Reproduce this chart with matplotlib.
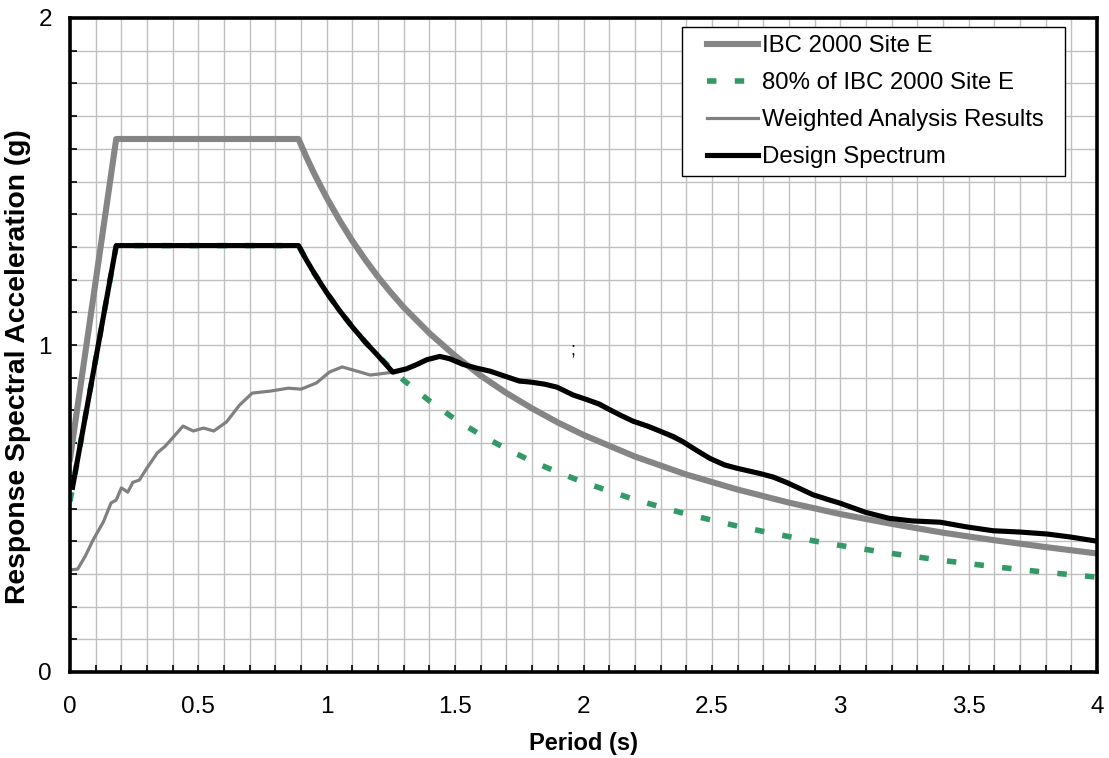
import matplotlib
matplotlib.use("Agg")
import matplotlib.pyplot as plt
from matplotlib.ticker import MultipleLocator
from matplotlib.patches import Rectangle

plt.rcParams['font.family'] = ['Liberation Sans', 'DejaVu Sans']

# ---- data ----
ibc_T = [0.0, 0.18, 0.89, 0.92, 0.95, 0.98, 1.0, 1.05, 1.1, 1.15, 1.2, 1.25, 1.3, 1.4,
         1.5, 1.6, 1.7, 1.8, 1.9, 2.0, 2.2, 2.4, 2.6, 2.8, 3.0, 3.2, 3.4, 3.6, 3.8, 4.0]
ibc_Sa = [0.652, 1.63, 1.63, 1.576, 1.526, 1.480, 1.450, 1.381, 1.318, 1.261, 1.208,
          1.160, 1.115, 1.036, 0.967, 0.906, 0.853, 0.806, 0.763, 0.725, 0.659, 0.604,
          0.558, 0.518, 0.483, 0.453, 0.426, 0.403, 0.382, 0.3625]

ibc80_Sa = [0.522, 1.304, 1.304, 1.261, 1.221, 1.184, 1.160, 1.105, 1.055, 1.009, 0.967,
            0.928, 0.892, 0.829, 0.773, 0.725, 0.682, 0.644, 0.611, 0.580, 0.527, 0.483,
            0.446, 0.414, 0.387, 0.3625, 0.341, 0.322, 0.305, 0.290]

weighted_T = [0.0, 0.03, 0.06, 0.09, 0.13, 0.16, 0.18, 0.20, 0.225, 0.245, 0.27, 0.30,
              0.34, 0.37, 0.40, 0.44, 0.48, 0.52, 0.56, 0.61, 0.66, 0.71, 0.78, 0.85,
              0.90, 0.96, 1.01, 1.06, 1.10, 1.17, 1.23, 1.257,
              1.31, 1.39, 1.44, 1.53, 1.636, 1.75, 1.80, 1.897, 1.96, 2.013, 2.10, 2.193,
              2.30, 2.39, 2.493, 2.598, 2.687, 2.79, 2.894, 3.0, 3.10, 3.19, 3.28, 3.39,
              3.49, 3.595, 3.70, 3.805, 3.895, 4.0]
weighted_Sa = [0.312, 0.315, 0.355, 0.404, 0.459, 0.517, 0.526, 0.563, 0.55, 0.58, 0.587,
               0.624, 0.67, 0.69, 0.716, 0.752, 0.737, 0.746, 0.737, 0.765, 0.816, 0.853,
               0.859, 0.868, 0.865, 0.884, 0.917, 0.933, 0.924, 0.908, 0.914, 0.917,
               0.927, 0.957, 0.966, 0.939, 0.92, 0.887, 0.887, 0.872, 0.847, 0.832, 0.801,
               0.765, 0.734, 0.70, 0.651, 0.624, 0.608, 0.578, 0.541, 0.517, 0.486, 0.471,
               0.462, 0.459, 0.443, 0.431, 0.428, 0.422, 0.413, 0.40]

design_T = [0.01, 0.18, 0.89, 0.92, 0.95, 0.98, 1.0, 1.05, 1.1, 1.15, 1.2, 1.257,
            1.31, 1.35, 1.39, 1.44, 1.48, 1.53, 1.58, 1.636, 1.70, 1.75, 1.80, 1.85, 1.897,
            1.96, 2.013, 2.06, 2.10, 2.15, 2.193, 2.25, 2.30, 2.35, 2.39, 2.44, 2.493,
            2.55, 2.598, 2.687, 2.74, 2.79, 2.84, 2.894, 2.95, 3.0, 3.05, 3.10, 3.19,
            3.28, 3.39, 3.49, 3.595, 3.70, 3.805, 3.895, 4.0]
design_Sa = [0.565, 1.304, 1.304, 1.261, 1.221, 1.184, 1.160, 1.105, 1.055, 1.009, 0.967,
             0.917, 0.927, 0.940, 0.955, 0.965, 0.958, 0.941, 0.930, 0.920, 0.903, 0.890,
             0.886, 0.880, 0.871, 0.847, 0.833, 0.820, 0.803, 0.783, 0.767, 0.752, 0.736,
             0.720, 0.703, 0.678, 0.653, 0.633, 0.623, 0.607, 0.596, 0.580, 0.562, 0.542,
             0.528, 0.516, 0.502, 0.488, 0.470, 0.462, 0.458, 0.444, 0.432, 0.428, 0.422,
             0.413, 0.40]

labels = ["IBC 2000 Site E", "80% of IBC 2000 Site E", "Weighted Analysis Results",
          "Design Spectrum"]
x_ticks = [0, 0.5, 1, 1.5, 2, 2.5, 3, 3.5, 4]
x_tick_labels = ["0", "0.5", "1", "1.5", "2", "2.5", "3", "3.5", "4"]
y_ticks = [0, 1, 2]
y_tick_labels = ["0", "1", "2"]

# ---- figure ----
fig = plt.figure(figsize=(11.09, 7.58), dpi=100)
ax = fig.add_axes([70/1109, 86/758, 1027/1109, 654/758])

ax.plot(weighted_T, weighted_Sa, color='#808080', lw=2.3, zorder=3, label=labels[2])
ax.plot(ibc_T, ibc_Sa, color='#858585', lw=4.4, zorder=4, label=labels[0])
ax.plot(ibc_T, ibc80_Sa, color='#339966', lw=4.0, zorder=4, label=labels[1],
        dashes=(1.7, 3.3), dash_capstyle='butt')
ax.plot(design_T, design_Sa, color='black', lw=3.7, zorder=5, label=labels[3])

ax.set_xlim(0, 4)
ax.set_ylim(0, 2)
ax.set_xticks(x_ticks)
ax.set_xticklabels(x_tick_labels)
ax.set_yticks(y_ticks)
ax.set_yticklabels(y_tick_labels)
ax.xaxis.set_minor_locator(MultipleLocator(0.1))
ax.yaxis.set_minor_locator(MultipleLocator(0.1))
ax.grid(True, which='both', color='#c0c0c0', lw=1.0, zorder=0)
ax.set_axisbelow(True)
ax.tick_params(which='both', direction='in', length=5, width=1.2, color='black',
               top=False, right=False)
ax.tick_params(axis='x', which='major', labelsize=17.5, pad=17)
ax.tick_params(axis='y', which='major', labelsize=17.5, pad=13)
for s in ax.spines.values():
    s.set_linewidth(2.6)
    s.set_color('black')
    s.set_zorder(6)

ax.set_xlabel("Period (s)", fontsize=17, fontweight='bold', va='top')
ax.xaxis.set_label_coords(0.5, (672 - 732) / 654)
ax.set_ylabel("Response Spectral Acceleration (g)", fontsize=20.3, fontweight='bold')
ax.yaxis.set_label_coords((31 - 70) / 1027, (672 - 367) / 654)

ax.text(1.959, 0.985, ";", fontsize=13, ha='center', va='center')

# legend frame
x0 = (682 - 70) / 1027
x1 = (1065 - 70) / 1027
y1 = (672 - 27) / 654
y0 = (672 - 176) / 654
ax.add_patch(Rectangle((x0, y0), x1 - x0, y1 - y0, transform=ax.transAxes,
                       facecolor='white', edgecolor='black', lw=1.0, zorder=9,
                       clip_on=False))

h, l = ax.get_legend_handles_labels()
order = [1, 2, 0, 3]
leg = ax.legend([h[i] for i in order], [l[i] for i in order],
                loc='upper left', bbox_to_anchor=((707 - 70) / 1027, (672 - 35) / 654),
                borderaxespad=0, fontsize=17.3, frameon=False,
                handlelength=2.12, handletextpad=0.17, labelspacing=0.63,
                borderpad=0)
leg.set_zorder(10)

fig.savefig("out.png", dpi=100)
